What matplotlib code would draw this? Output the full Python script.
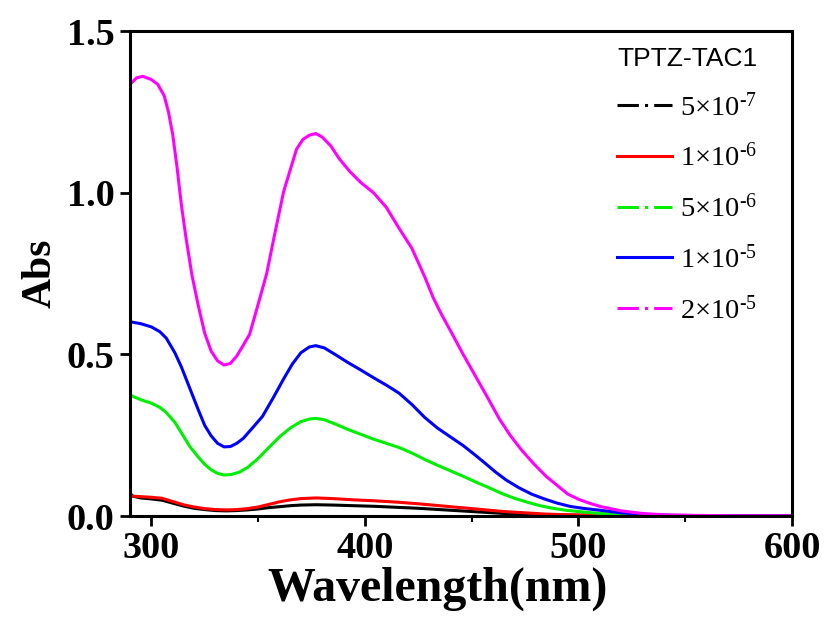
import matplotlib
matplotlib.use("Agg")
import matplotlib.pyplot as plt
from matplotlib.lines import Line2D

# ==========================
# DATA
# ==========================

WL_BLACK = [290, 291, 295, 300, 305, 310, 315, 320, 325, 330, 335, 340, 345, 350, 355,
            360, 365, 370, 377, 385, 395, 405, 415, 425, 435, 445, 455, 465, 475, 485,
            495, 510, 530, 600]
ABS_BLACK = [0.072, 0.062, 0.056, 0.053, 0.049, 0.040, 0.031, 0.024, 0.020, 0.017, 0.016,
             0.017, 0.019, 0.022, 0.026, 0.029, 0.032, 0.034, 0.035, 0.034, 0.032, 0.030,
             0.027, 0.024, 0.020, 0.016, 0.012, 0.008, 0.006, 0.004, 0.003, 0.002, 0.001,
             0.001]

WL_RED = [290, 295, 300, 305, 310, 315, 320, 325, 330, 335, 340, 345, 350, 355, 360, 365,
          370, 377, 385, 395, 405, 415, 425, 435, 445, 455, 465, 475, 485, 495, 510, 530,
          600]
ABS_RED = [0.062, 0.060, 0.058, 0.055, 0.045, 0.035, 0.028, 0.023, 0.020, 0.019, 0.020,
           0.023, 0.028, 0.036, 0.044, 0.050, 0.054, 0.056, 0.054, 0.050, 0.047, 0.043,
           0.038, 0.032, 0.026, 0.020, 0.014, 0.010, 0.006, 0.004, 0.002, 0.001, 0.001]

WL_GREEN = [290, 295, 300, 304, 307, 311, 314, 318, 322, 325, 328, 331, 334, 337, 341, 345,
            350, 355, 360, 365, 370, 374, 377, 381, 386, 392, 398, 404, 410, 416, 422, 428,
            434, 440, 446, 452, 458, 464, 470, 476, 482, 488, 494, 500, 508, 518, 530, 550,
            600]
ABS_GREEN = [0.374, 0.360, 0.349, 0.336, 0.320, 0.290, 0.258, 0.215, 0.182, 0.160, 0.143,
             0.132, 0.127, 0.128, 0.135, 0.150, 0.178, 0.212, 0.245, 0.272, 0.292, 0.300,
             0.302, 0.298, 0.285, 0.268, 0.253, 0.238, 0.225, 0.212, 0.195, 0.175, 0.157,
             0.140, 0.123, 0.105, 0.088, 0.070, 0.055, 0.043, 0.032, 0.024, 0.018, 0.014,
             0.009, 0.005, 0.003, 0.001, 0.001]

WL_BLUE = [290, 295, 300, 304, 307, 311, 314, 318, 322, 325, 328, 331, 334, 337, 340, 343,
           347, 352, 357, 362, 366, 370, 374, 377, 381, 386, 392, 398, 404, 410, 416, 422,
           428, 434, 440, 446, 451, 456, 461, 466, 472, 478, 484, 490, 496, 502, 510, 520,
           530, 545, 570, 600]
ABS_BLUE = [0.601, 0.595, 0.585, 0.570, 0.550, 0.505, 0.462, 0.395, 0.328, 0.280, 0.248,
            0.225, 0.214, 0.215, 0.225, 0.240, 0.270, 0.308, 0.365, 0.425, 0.470, 0.505,
            0.523, 0.527, 0.520, 0.500, 0.475, 0.452, 0.428, 0.405, 0.380, 0.345, 0.305,
            0.272, 0.245, 0.218, 0.192, 0.165, 0.137, 0.112, 0.088, 0.068, 0.053, 0.040,
            0.030, 0.024, 0.018, 0.010, 0.005, 0.002, 0.001, 0.001]

WL_MAGENTA = [290, 293, 296, 300, 303, 306, 308, 310, 312, 314, 316, 319, 322, 325, 328,
              331, 334, 337, 340, 343, 346, 350, 354, 358, 362, 365, 368, 371, 374, 377,
              380, 384, 388, 393, 398, 404, 410, 416, 422, 428, 432, 436, 440, 446, 452,
              458, 463, 468, 473, 479, 485, 490, 495, 500, 505, 510, 520, 530, 540, 555,
              575, 600]
ABS_MAGENTA = [1.335, 1.355, 1.360, 1.350, 1.335, 1.300, 1.250, 1.180, 1.080, 0.965, 0.870,
               0.745, 0.650, 0.565, 0.510, 0.480, 0.467, 0.472, 0.495, 0.528, 0.562, 0.655,
               0.750, 0.880, 1.005, 1.070, 1.135, 1.165, 1.178, 1.183, 1.172, 1.145, 1.105,
               1.065, 1.032, 1.000, 0.955, 0.890, 0.828, 0.740, 0.675, 0.622, 0.574, 0.500,
               0.430, 0.360, 0.300, 0.250, 0.207, 0.162, 0.122, 0.095, 0.068, 0.052, 0.040,
               0.030, 0.016, 0.008, 0.004, 0.002, 0.001, 0.001]

LABELS = [r"$\mathregular{5{\times}10^{\text{-}7}}$", r"$\mathregular{1{\times}10^{\text{-}6}}$",
          r"$\mathregular{5{\times}10^{\text{-}6}}$", r"$\mathregular{1{\times}10^{\text{-}5}}$",
          r"$\mathregular{2{\times}10^{\text{-}5}}$"]
COLORS = ["#000000", "#ff0000", "#00ee00", "#0000ff", "#ff00ff"]
DASHED = [True, False, True, False, True]

# ==========================
# PLOT
# ==========================

plt.rcParams["mathtext.fontset"] = "custom"
plt.rcParams["mathtext.rm"] = "Liberation Serif"
plt.rcParams["font.family"] = "Liberation Serif"

fig = plt.figure(figsize=(8.25, 6.21), dpi=100)
ax = fig.add_axes([0.1576, 0.169, 0.8024, 0.781])

series = [(WL_BLACK, ABS_BLACK), (WL_RED, ABS_RED), (WL_GREEN, ABS_GREEN),
          (WL_BLUE, ABS_BLUE), (WL_MAGENTA, ABS_MAGENTA)]
for (wl, ab), c in zip(series, COLORS):
    ax.plot(wl, ab, color=c, lw=2.2, solid_capstyle="round", solid_joinstyle="round")

ax.set_xlim(290, 600)
ax.set_ylim(0, 1.5)
ax.set_xticks([300, 400, 500, 600])
ax.set_xticks([350, 450, 550], minor=True)
ax.set_yticks([0.0, 0.5, 1.0, 1.5])
ax.set_yticklabels(["0.0", "0.5", "1.0", "1.5"])

for s in ax.spines.values():
    s.set_linewidth(2.2)
ax.tick_params(which="major", direction="out", length=7, width=2.0, labelsize=27.5, pad=4)
ax.tick_params(which="minor", direction="out", length=4, width=1.5)
ax.tick_params(axis="y", which="minor", left=False)
for lab in ax.get_xticklabels() + ax.get_yticklabels():
    lab.set_fontweight("bold")

ax.set_xlabel("Wavelength(nm)", fontsize=34.5, fontweight="bold")
ax.xaxis.set_label_coords(0.465, -0.105)
ax.set_ylabel("Abs", fontsize=30, fontweight="bold")
ax.yaxis.set_label_coords(-0.107, 0.5)

handles = []
for c, d in zip(COLORS, DASHED):
    h = Line2D([], [], color=c, lw=2.2)
    if d:
        h.set_dashes([7, 2, 1, 2])
    handles.append(h)

leg = ax.legend(handles, LABELS, loc="upper left", bbox_to_anchor=(0.7356, 0.968),
                frameon=False, fontsize=20.5, handlelength=1.95, handletextpad=0.25,
                labelspacing=0.78, borderaxespad=0, borderpad=0, title="TPTZ-TAC1",
                title_fontproperties={"family": "Liberation Sans", "size": 19})
leg._legend_box.align = "left"

fig.savefig("out.png", dpi=100)
